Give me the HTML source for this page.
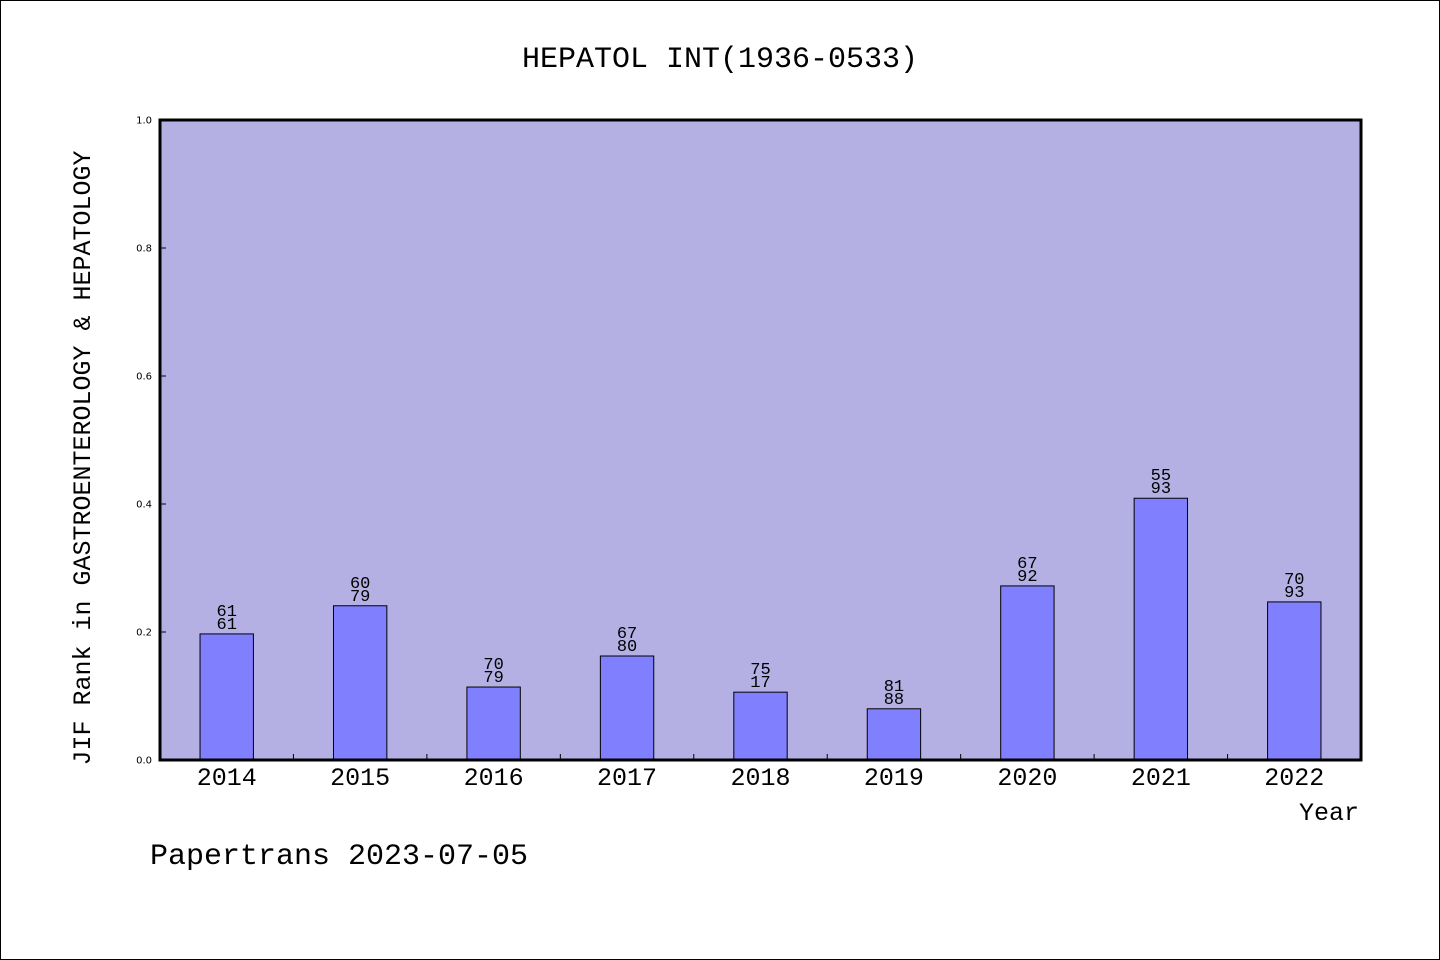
<!DOCTYPE html>
<html><head><meta charset="utf-8"><style>
html,body{margin:0;padding:0;background:#fff}
svg{display:block}
text{font-family:"WenQuanYi Zen Hei","Liberation Mono",monospace}
.s{font-family:"DejaVu Sans","Liberation Sans",sans-serif}
</style></head><body>
<svg id="chart" width="1440" height="960">
<rect x="0.5" y="0.5" width="1439" height="959" fill="#fff" stroke="#000"/>
<text x="720" y="67" font-size="30" text-anchor="middle">HEPATOL INT(1936-0533)</text>
<rect x="160" y="120" width="1201" height="640" fill="#b5b0e3"/>
<g id="bars"></g>
<rect x="160" y="120" width="1201" height="640" fill="none" stroke="#000" stroke-width="3"/>
<text transform="translate(90,458) rotate(-90)" font-size="25" text-anchor="middle">JIF Rank in GASTROENTEROLOGY &amp; HEPATOLOGY</text>
<text x="1359" y="820" font-size="25" text-anchor="end">Year</text>
<text x="150" y="864" font-size="30">Papertrans 2023-07-05</text>
</svg>
<script>
const years=["2014","2015","2016","2017","2018","2019","2020","2021","2022"];
const values=[0.197,0.241,0.114,0.1625,0.106,0.080,0.272,0.409,0.247];
const topLabels=["61","60","70","67","75","81","67","55","70"];
const bottomLabels=["61","79","79","80","17","88","92","93","93"];
const yTicks=["0.0","0.2","0.4","0.6","0.8","1.0"];
const NS="http://www.w3.org/2000/svg";
const svg=document.getElementById('chart');
const g=document.getElementById('bars');
const X0=160,W=1201,Y0=760,H=640;
const slot=W/years.length;
const xc=i=>X0+slot*(i+0.5);
const y=v=>Y0-v*H;
function mk(t,a,p){const e=document.createElementNS(NS,t);for(const k in a)e.setAttribute(k,a[k]);(p||svg).appendChild(e);return e;}
yTicks.forEach(t=>{const v=parseFloat(t);
 const l=mk('line',{x1:X0,x2:X0+6,y1:y(v),y2:y(v),stroke:'#000','stroke-width':1});
 
 
 const tx=mk('text',{x:152,y:y(v)+3.5,'font-size':10,'text-anchor':'end',class:'s'});
 tx.textContent=t;
 
 
});
for(let i=1;i<years.length;i++){
 const l=mk('line',{x1:X0+slot*i,x2:X0+slot*i,y1:Y0,y2:Y0-6,stroke:'#000','stroke-width':1});
 
 
}
years.forEach((yr,i)=>{
 const bw=slot*0.4,top=y(values[i]);
 const r=mk('rect',{x:xc(i)-bw/2,y:top,width:bw,height:Y0-top,fill:'#8080ff',stroke:'#000','stroke-width':1},g);
 
 
 const t1=mk('text',{x:xc(i),y:top-18,'font-size':17,'text-anchor':'middle'});
 t1.textContent=topLabels[i];
 
 
 const t2=mk('text',{x:xc(i),y:top-5,'font-size':17,'text-anchor':'middle'});
 t2.textContent=bottomLabels[i];
 
 
 const xl=mk('text',{x:xc(i),y:785,'font-size':25,'text-anchor':'middle'});
 xl.textContent=yr;
 
 
});
</script>
</body></html>
